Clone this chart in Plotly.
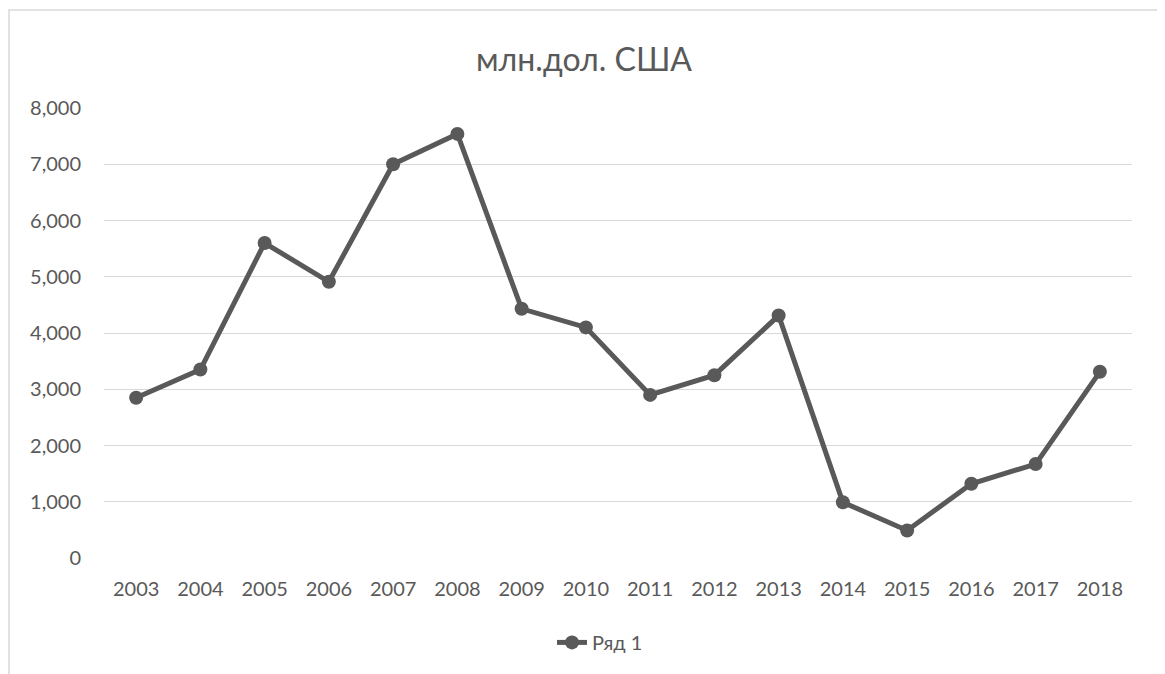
import plotly.graph_objects as go

years = ["2003", "2004", "2005", "2006", "2007", "2008", "2009", "2010",
         "2011", "2012", "2013", "2014", "2015", "2016", "2017", "2018"]
values = [2850, 3350, 5600, 4910, 7000, 7540, 4430, 4100,
          2900, 3250, 4310, 990, 490, 1320, 1670, 3310]
series_name = "Ряд 1"
title_text = "млн.дол. США"

OFF = 8  # page body margin
W, H = 1165, 674
L = 104 - OFF
T = 108 - OFF
R = OFF + W - 1132
B = H - (558.5 - OFF)
pw, ph = W - L - R, H - T - B

def px(x):
    return (x - OFF - L) / pw

def py(y):
    return (H - B - (y - OFF)) / ph

fig = go.Figure()
fig.add_trace(go.Scatter(
    x=years, y=values, name=series_name, mode="lines+markers",
    line=dict(color="#595959", width=5),
    marker=dict(color="#595959", size=14),
))

fig.update_layout(
    width=W, height=H,
    margin=dict(l=L, r=R, t=T, b=B),
    paper_bgcolor="white", plot_bgcolor="white",
    font=dict(family="Lato, Open Sans, sans-serif", color="#595959", size=20),
    title=dict(text=title_text, x=px(584), xanchor="center", xref="paper",
               y=1 - (60 - OFF) / H, yanchor="middle",
               font=dict(size=32, color="#595959")),
    showlegend=True,
    legend=dict(orientation="h", x=px(600), xanchor="center", y=py(643), yanchor="middle",
                font=dict(size=20, color="#595959")),
    xaxis=dict(type="category", range=[-0.5, 15.5], showgrid=False, showline=False,
               ticks="", tickfont=dict(size=20, color="#595959"), zeroline=False,
               ticklabelstandoff=17),
    yaxis=dict(range=[0, 8000], dtick=1000, tickformat=",", showgrid=True,
               gridcolor="#d9d9d9", gridwidth=1.3, zeroline=False, showline=False,
               ticks="", ticklabelstandoff=22, tickfont=dict(size=20, color="#595959")),
    shapes=[dict(type="rect", xref="paper", yref="paper",
                 x0=px(9), x1=px(1161), y0=py(700), y1=py(10),
                 line=dict(color="#d9d9d9", width=1.5), fillcolor="rgba(0,0,0,0)",
                 layer="below")],
)

fig.write_html("out.html")
